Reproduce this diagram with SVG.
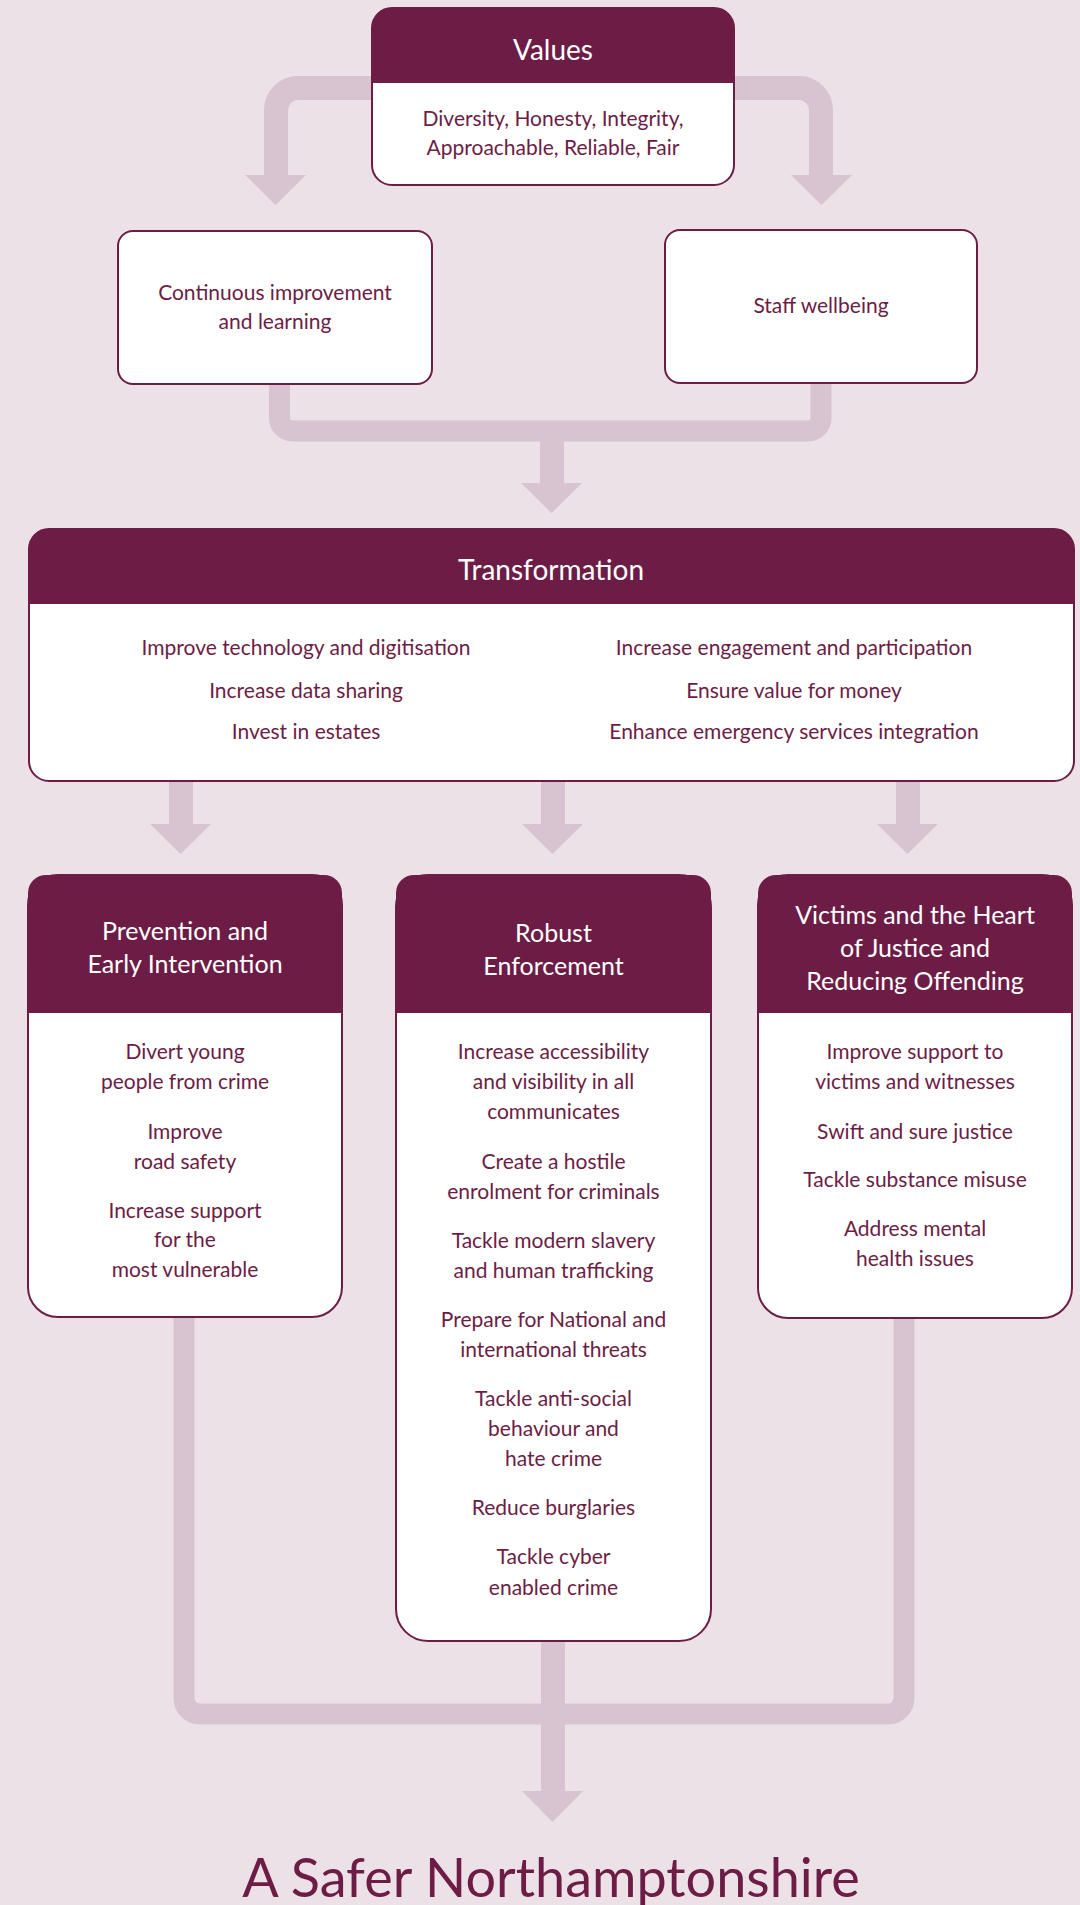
<svg xmlns="http://www.w3.org/2000/svg" width="1080" height="1905" viewBox="0 0 1080 1905">
<defs>
<style>
.bg{fill:#ebe1e7}
.band{fill:none;stroke:#d8c3d0;stroke-width:24}
.bandn{fill:none;stroke:#d8c3d0;stroke-width:21}
.head{fill:#d8c3d0}
.box{fill:#ffffff;stroke:#6d1d45;stroke-width:2}
.hdr{fill:#6d1d45}
.t{font-family:Lato,"Open Sans","Liberation Sans",sans-serif;fill:#6d1d45;font-size:21px;text-anchor:middle}
.h{font-family:Lato,"Open Sans","Liberation Sans",sans-serif;fill:#ffffff;font-size:25px;text-anchor:middle}
.hb{font-size:28px}
.big{font-family:Lato,"Open Sans","Liberation Sans",sans-serif;fill:#6d1d45;font-size:54px;text-anchor:middle}
</style>
</defs>
<rect class="bg" x="0" y="0" width="1080" height="1905"/>
<g id="connectors">
<path class="band" d="M 380 88 H 298 A 22 22 0 0 0 276 110 V 177"/>
<polygon class="head" points="245,175 306,175 275.5,205"/>
<path class="band" d="M 725 88 H 799 A 22 22 0 0 1 821 110 V 177"/>
<polygon class="head" points="791,175 852,175 821.5,205"/>
<path class="bandn" d="M 279.5 380 V 418 A 13 13 0 0 0 292.5 431 H 808 A 13 13 0 0 0 821 418 V 380"/>
<path class="band" d="M 552 431 V 485"/>
<polygon class="head" points="521,483 582,483 551.5,513"/>
<path class="band" d="M 181 778 V 826"/>
<polygon class="head" points="150,824 211,824 180.5,854"/>
<path class="band" d="M 553 778 V 826"/>
<polygon class="head" points="522,824 583,824 552.5,854"/>
<path class="band" d="M 908 778 V 826"/>
<polygon class="head" points="877,824 938,824 907.5,854"/>
<path class="bandn" d="M 184 1310 V 1698 A 16 16 0 0 0 200 1714 H 888 A 16 16 0 0 0 904 1698 V 1310"/>
<path class="band" d="M 553 1635 V 1793"/>
<polygon class="head" points="522,1791 583,1791 552.5,1822"/>
</g>
<g id="values">
<rect class="box" x="372" y="8" width="362" height="177" rx="20"/>
<path class="hdr" d="M 372 83 V 28 A 20 20 0 0 1 392 8 H 714 A 20 20 0 0 1 734 28 V 83 Z"/>
<text class="h hb" x="553" y="60">Values</text>
<text class="t" x="553" y="126">Diversity, Honesty, Integrity,</text>
<text class="t" x="553" y="155">Approachable, Reliable, Fair</text>
</g>
<g id="continuous">
<rect class="box" x="118" y="231" width="314" height="153" rx="15"/>
<text class="t" x="275" y="300">Continuous improvement</text>
<text class="t" x="275" y="329">and learning</text>
</g>
<g id="staff">
<rect class="box" x="665" y="230" width="312" height="153" rx="15"/>
<text class="t" x="821" y="313">Staff wellbeing</text>
</g>
<g id="transformation">
<rect class="box" x="29" y="529" width="1045" height="252" rx="20"/>
<path class="hdr" d="M 29 604 V 549 A 20 20 0 0 1 49 529 H 1054 A 20 20 0 0 1 1074 549 V 604 Z"/>
<text class="h hb" x="551" y="580">Transformation</text>
<text class="t" x="306" y="655">Improve technology and digitisation</text>
<text class="t" x="306" y="698">Increase data sharing</text>
<text class="t" x="306" y="739">Invest in estates</text>
<text class="t" x="794" y="655">Increase engagement and participation</text>
<text class="t" x="794" y="698">Ensure value for money</text>
<text class="t" x="794" y="739">Enhance emergency services integration</text>
</g>
<g id="prevention">
<rect class="box" x="28" y="875" width="314" height="442" rx="30"/>
<path class="hdr" d="M 28 1013 V 893 A 18 18 0 0 1 46 875 H 324 A 18 18 0 0 1 342 893 V 1013 Z"/>
<text class="h" x="185" y="940">Prevention and</text>
<text class="h" x="185" y="973">Early Intervention</text>
<text class="t" x="185" y="1059">Divert young</text>
<text class="t" x="185" y="1089">people from crime</text>
<text class="t" x="185" y="1139">Improve</text>
<text class="t" x="185" y="1169">road safety</text>
<text class="t" x="185" y="1218">Increase support</text>
<text class="t" x="185" y="1247">for the</text>
<text class="t" x="185" y="1277">most vulnerable</text>
</g>
<g id="enforcement">
<rect class="box" x="396" y="875" width="315" height="766" rx="32"/>
<path class="hdr" d="M 396 1013 V 893 A 18 18 0 0 1 414 875 H 693 A 18 18 0 0 1 711 893 V 1013 Z"/>
<text class="h" x="553.5" y="942">Robust</text>
<text class="h" x="553.5" y="975">Enforcement</text>
<text class="t" x="553.5" y="1059">Increase accessibility</text>
<text class="t" x="553.5" y="1089">and visibility in all</text>
<text class="t" x="553.5" y="1119">communicates</text>
<text class="t" x="553.5" y="1169">Create a hostile</text>
<text class="t" x="553.5" y="1199">enrolment for criminals</text>
<text class="t" x="553.5" y="1248">Tackle modern slavery</text>
<text class="t" x="553.5" y="1278">and human trafficking</text>
<text class="t" x="553.5" y="1327">Prepare for National and</text>
<text class="t" x="553.5" y="1357">international threats</text>
<text class="t" x="553.5" y="1406">Tackle anti-social</text>
<text class="t" x="553.5" y="1436">behaviour and</text>
<text class="t" x="553.5" y="1466">hate crime</text>
<text class="t" x="553.5" y="1515">Reduce burglaries</text>
<text class="t" x="553.5" y="1564">Tackle cyber</text>
<text class="t" x="553.5" y="1595">enabled crime</text>
</g>
<g id="victims">
<rect class="box" x="758" y="875" width="314" height="443" rx="30"/>
<path class="hdr" d="M 758 1013 V 893 A 18 18 0 0 1 776 875 H 1054 A 18 18 0 0 1 1072 893 V 1013 Z"/>
<text class="h" x="915" y="924">Victims and the Heart</text>
<text class="h" x="915" y="957">of Justice and</text>
<text class="h" x="915" y="990">Reducing Offending</text>
<text class="t" x="915" y="1059">Improve support to</text>
<text class="t" x="915" y="1089">victims and witnesses</text>
<text class="t" x="915" y="1139">Swift and sure justice</text>
<text class="t" x="915" y="1187">Tackle substance misuse</text>
<text class="t" x="915" y="1236">Address mental</text>
<text class="t" x="915" y="1266">health issues</text>
</g>
<g id="title">
<text class="big" x="551" y="1897">A Safer Northamptonshire</text>
</g>
</svg>
